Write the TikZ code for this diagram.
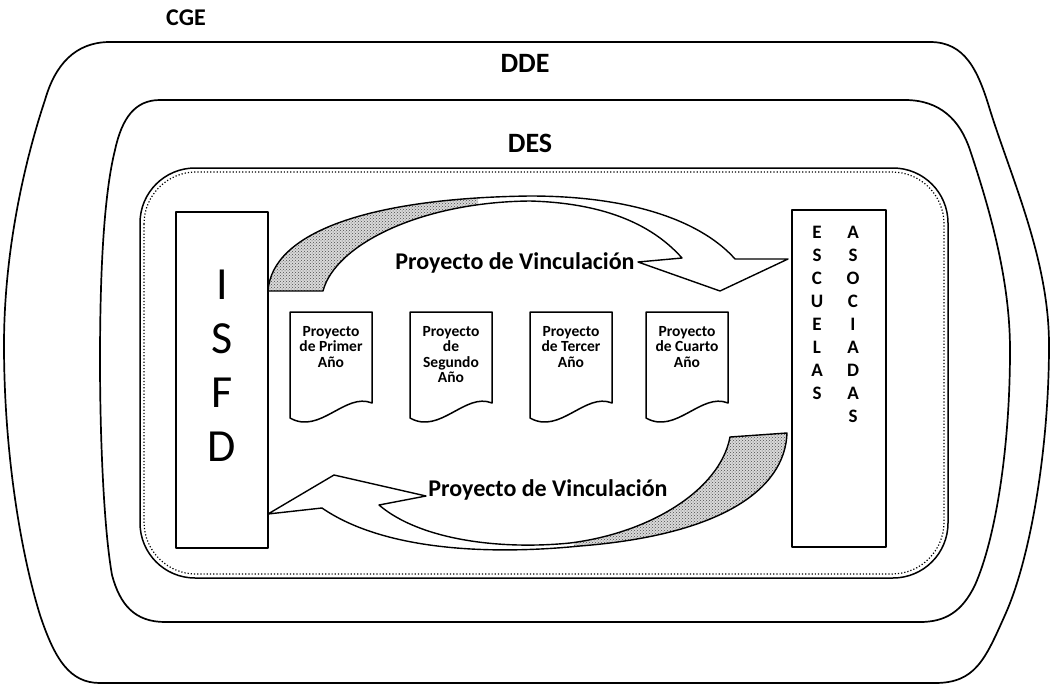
\documentclass[tikz,border=0pt]{standalone}
\usepackage{fontspec}
\setmainfont{Carlito}
\usetikzlibrary{patterns}
\begin{document}
\begin{tikzpicture}[x=1pt,y=-1pt,line join=round,
  frame/.style={line width=1.7pt},
  boxline/.style={line width=1.8pt},
  docline/.style={line width=1.5pt},
  arrline/.style={line width=1.4pt},
  lbl/.style={font=\bfseries\fontsize{28}{30}\selectfont,inner sep=0},
  vinc/.style={font=\bfseries\fontsize{24}{26}\selectfont,inner sep=0},
  doctxt/.style={font=\bfseries\fontsize{15.5}{15.5}\selectfont,align=center,inner sep=0},
  colA/.style={font=\bfseries\fontsize{19}{23}\selectfont,align=center,inner sep=0,anchor=north},
  big/.style={font=\fontsize{46}{54}\selectfont,align=center,inner sep=0},
  shade/.style={fill=gray!30,postaction={pattern=crosshatch dots,pattern color=black!70}}]
\useasboundingbox (0,0) rectangle (1054,688);

% CGE outline
\draw[frame] (110,42) -- (930,42) .. controls (965,42) and (978,70) .. (990,110)
  .. controls (1012,180) and (1049,260) .. (1049,345)
  .. controls (1049,450) and (1030,560) .. (1005,615)
  .. controls (985,660) and (975,683) .. (935,683) -- (100,683)
  .. controls (70,683) and (55,660) .. (40,615)
  .. controls (20,550) and (4,450) .. (4,345)
  .. controls (4,250) and (25,160) .. (45,100)
  .. controls (55,65) and (75,42) .. (110,42) -- cycle;
\node[lbl,font=\bfseries\fontsize{24}{26}\selectfont] (cge) at (186,18) {CGE};

% DDE outline
\draw[frame] (160,100) -- (905,100) .. controls (940,100) and (960,120) .. (970,150)
  .. controls (990,210) and (1010,280) .. (1010,350)
  .. controls (1010,450) and (995,540) .. (975,585)
  .. controls (962,612) and (945,622) .. (920,622) -- (165,622)
  .. controls (135,622) and (120,605) .. (112,575)
  .. controls (104,530) and (100,440) .. (100,360)
  .. controls (100,260) and (105,190) .. (115,150)
  .. controls (122,118) and (135,100) .. (160,100) -- cycle;
\node[lbl] (dde) at (525,63) {DDE};

% DES outline (solid + dotted)
\draw[line width=1.5pt,rounded corners=55pt] (140,168) rectangle (948,578);
\draw[line width=1.2pt,dotted,rounded corners=52pt] (144,172) rectangle (944,574);
\node[lbl] (des) at (530,143) {DES};

% side boxes
\draw[boxline] (176,212) rectangle (268,548);
\node[big] (isfd) at (222,366) {I\\S\\F\\D};
\draw[boxline] (792,210) rectangle (886,547);
\node[colA] (esc) at (817,226) {E\\S\\C\\U\\E\\L\\A\\S};
\node[colA] (aso) at (853,226) {A\\S\\O\\C\\I\\A\\D\\A\\S};

% top curved arrow
\def\toparrow{(268,291) .. controls (272,232) and (370,198) .. (530,196)
  .. controls (640,196) and (705,225) .. (735,259) -- (788,259) -- (720,291)
  -- (638,262) -- (682,258) .. controls (650,222) and (600,203) .. (530,201)
  .. controls (420,202) and (335,245) .. (323,291) -- cycle}
\begin{scope}
  \clip (0,0) rectangle (478,688);
  \path[shade] \toparrow;
\end{scope}
\draw[arrline] \toparrow;
\node[vinc] (v1) at (515,263) {Proyecto de Vinculación};

% bottom curved arrow
\def\botarrow{(787,433) .. controls (785,490) and (720,535) .. (580,546)
  .. controls (480,556) and (380,548) .. (322,508) -- (268,514) -- (334,475)
  -- (426,496) -- (379,505) .. controls (420,540) and (500,550) .. (570,543)
  .. controls (650,533) and (720,490) .. (730,437) -- cycle}
\begin{scope}
  \clip (574,0) rectangle (1054,688);
  \path[shade] \botarrow;
\end{scope}
\draw[arrline] \botarrow;
\node[vinc] (v2) at (548,490) {Proyecto de Vinculación};

% documents
\foreach \x/\n/\t in {290/d1/{Proyecto\\de Primer\\Año},410/d2/{Proyecto\\de\\Segundo\\Año},530/d3/{Proyecto\\de Tercer\\Año},646/d4/{Proyecto\\de Cuarto\\Año}}{
  \draw[docline] (\x,312) -- (\x+82,312) -- (\x+82,403)
    .. controls (\x+55,392) and (\x+30,435) .. (\x,418) -- cycle;
  \node[doctxt,anchor=north] (\n) at (\x+41,326) {\t};
}
\end{tikzpicture}
\end{document}
